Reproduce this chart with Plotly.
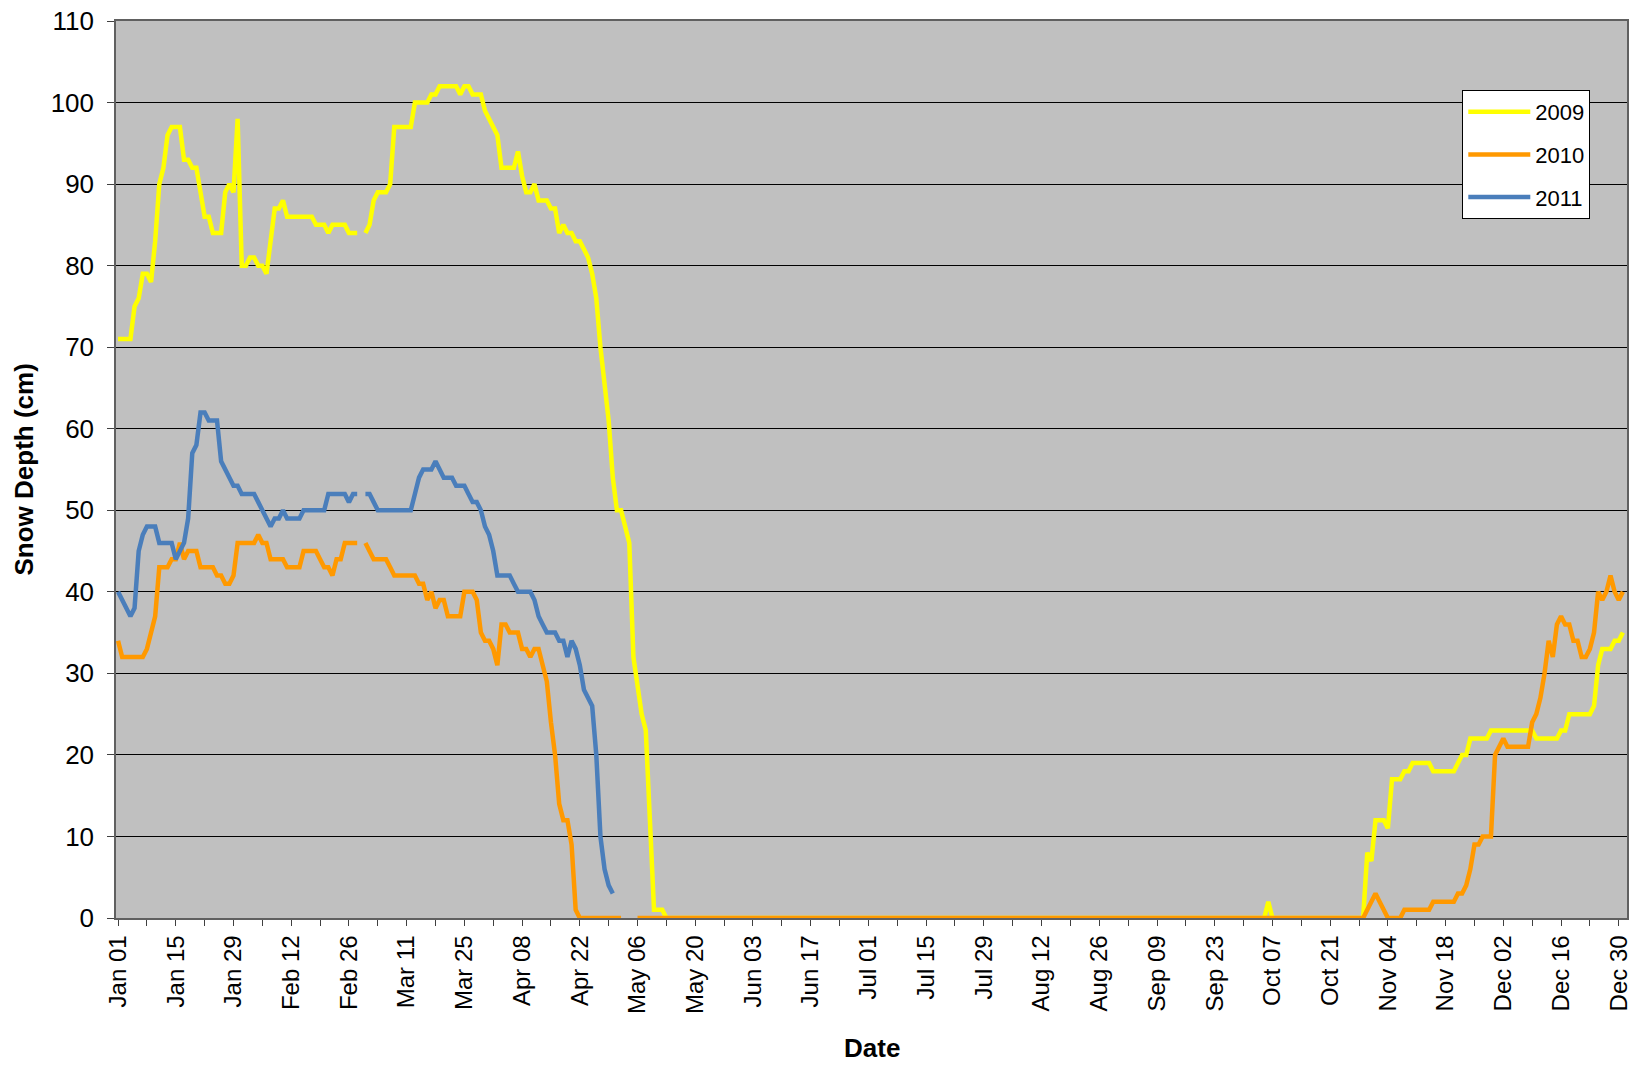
import pandas as pd
import plotly.graph_objects as go

# Day index 0..365 of a leap-year calendar (Jan 01 .. Dec 31); Feb 29 (idx 59) missing for all years
dates = pd.date_range("2012-01-01", periods=366, freq="D")

depth_2009 = (
    [71, 71, 71, 71, 75, 76, 79, 79, 78, 83, 90, 92, 96, 97, 97, 97, 93, 93, 92, 92,
     89, 86, 86, 84, 84, 84, 89, 90, 89, 98, 80, 80, 81, 81, 80, 80, 79, 83, 87, 87,
     88, 86, 86, 86, 86, 86, 86, 86, 85, 85, 85, 84, 85, 85, 85, 85, 84, 84, 84, None,
     84, 85, 88, 89, 89, 89, 90, 97, 97, 97, 97, 97, 100, 100, 100, 100, 101, 101, 102, 102,
     102, 102, 102, 101, 102, 102, 101, 101, 101, 99, 98, 97, 96, 92, 92, 92, 92, 94, 91, 89,
     89, 90, 88, 88, 88, 87, 87, 84, 85, 84, 84, 83, 83, 82, 81, 79, 76, 70, 65, 61,
     54, 50, 50, 48, 46, 32, 28, 25, 23, 12, 1, 1, 1, 0]
    + [0] * 145
    + [2]
    + [0] * 23
    + [8, 7, 12, 12, 12, 11, 17, 17, 17, 18, 18, 19, 19, 19, 19, 19, 18, 18, 18, 18,
       18, 18, 19, 20, 20, 22, 22, 22, 22, 22, 23, 23, 23, 23, 23, 23, 23, 23, 23, 23,
       23, 22, 22, 22, 22, 22, 22, 23, 23, 25, 25, 25, 25, 25, 25, 26, 31, 33, 33, 33,
       34, 34, 35]
)

depth_2010 = (
    [34, 32, 32, 32, 32, 32, 32, 33, 35, 37, 43, 43, 43, 44, 44, 46, 44, 45, 45, 45,
     43, 43, 43, 43, 42, 42, 41, 41, 42, 46, 46, 46, 46, 46, 47, 46, 46, 44, 44, 44,
     44, 43, 43, 43, 43, 45, 45, 45, 45, 44, 43, 43, 42, 44, 44, 46, 46, 46, 46, None,
     46, 45, 44, 44, 44, 44, 43, 42, 42, 42, 42, 42, 42, 41, 41, 39, 40, 38, 39, 39,
     37, 37, 37, 37, 40, 40, 40, 39, 35, 34, 34, 33, 31, 36, 36, 35, 35, 35, 33, 33,
     32, 33, 33, 31, 29, 24, 20, 14, 12, 12, 9, 1, 0]
    + [0] * 10
    + [None, None, None]
    + [0] * 177
    + [1, 2, 3, 2, 1, 0, 0, 0, 0, 1, 1, 1, 1, 1, 1, 1, 2, 2, 2, 2,
       2, 2, 3, 3, 4, 6, 9, 9, 10, 10, 10, 20, 21, 22, 21, 21, 21, 21, 21, 21,
       24, 25, 27, 30, 34, 32, 36, 37, 36, 36, 34, 34, 32, 32, 33, 35, 40, 39, 40, 42,
       40, 39, 40]
)

depth_2011 = (
    [40, 39, 38, 37, 38, 45, 47, 48, 48, 48, 46, 46, 46, 46, 44, 45, 46, 49, 57, 58,
     62, 62, 61, 61, 61, 56, 55, 54, 53, 53, 52, 52, 52, 52, 51, 50, 49, 48, 49, 49,
     50, 49, 49, 49, 49, 50, 50, 50, 50, 50, 50, 52, 52, 52, 52, 52, 51, 52, 52, None,
     52, 52, 51, 50, 50, 50, 50, 50, 50, 50, 50, 50, 52, 54, 55, 55, 55, 56, 55, 54,
     54, 54, 53, 53, 53, 52, 51, 51, 50, 48, 47, 45, 42, 42, 42, 42, 41, 40, 40, 40,
     40, 39, 37, 36, 35, 35, 35, 34, 34, 32, 34, 33, 31, 28, 27, 26, 20, 10, 6, 4, 3]
    + [None] * 245
)

series_names = ["2009", "2010", "2011"]
series_colors = ["#FFFF00", "#FF9900", "#4A7EBB"]
series_values = [depth_2009, depth_2010, depth_2011]

x_title = "Date"
y_title = "Snow Depth (cm)"

for v in series_values:
    assert len(v) == 366, len(v)

FONT = "Liberation Sans, Arial, sans-serif"
DAY_MS = 86400000

fig = go.Figure()
for name, color, vals in zip(series_names, series_colors, series_values):
    fig.add_trace(go.Scatter(
        x=dates, y=vals, mode="lines", name=name, legendgroup=name,
        line=dict(color=color, width=4.5), connectgaps=False,
    ))

# The page body adds an 8px margin on the top/left, so the figure is offset by 8px
fig.update_layout(
    width=1633, height=1057,
    margin=dict(l=108, r=14, t=13, b=147),
    paper_bgcolor="white", plot_bgcolor="#C0C0C0",
    font=dict(family=FONT, size=22, color="black"),
    showlegend=True,
    legend=dict(
        x=0.891, y=0.923, xanchor="left", yanchor="top",
        bgcolor="white", bordercolor="black", borderwidth=1,
        font=dict(family=FONT, size=22, color="black"),
        tracegroupgap=11, itemwidth=62,
    ),
    annotations=[
        dict(text="<b>%s</b>" % x_title, xref="paper", yref="paper", x=0.5, y=0,
             xanchor="center", yanchor="middle", yshift=-130, showarrow=False,
             font=dict(family=FONT, size=26, color="black")),
        dict(text="<b>%s</b>" % y_title, xref="paper", yref="paper", x=0, y=0.5,
             xanchor="center", yanchor="middle", xshift=-93, textangle=-90, showarrow=False,
             font=dict(family=FONT, size=26, color="black")),
    ],
)

fig.update_xaxes(
    type="date", automargin=False, ticklabeloverflow="allow",
    range=["2011-12-31 12:00", "2013-01-01 00:00"],
    tick0="2012-01-01", dtick=14 * DAY_MS, tickformat="%b %d",
    tickangle=-90, ticks="outside", ticklen=6, tickcolor="#404040",
    tickfont=dict(family=FONT, size=24, color="black"),
    minor=dict(tick0="2012-01-01", dtick=7 * DAY_MS, ticks="outside", ticklen=6,
               tickcolor="#404040", showgrid=False),
    showgrid=False, zeroline=False,
    showline=True, linecolor="#606060", linewidth=1.5, mirror=True,
)

fig.update_yaxes(
    automargin=False, ticklabeloverflow="allow",
    range=[0, 110], dtick=10, tick0=0,
    ticks="outside", ticklen=7, tickcolor="#404040", ticklabelstandoff=8,
    tickfont=dict(family=FONT, size=26, color="black"),
    showgrid=True, gridcolor="black", gridwidth=1,
    zeroline=False,
    showline=True, linecolor="#606060", linewidth=1.5, mirror=True,
)

fig.write_html("out.html")
